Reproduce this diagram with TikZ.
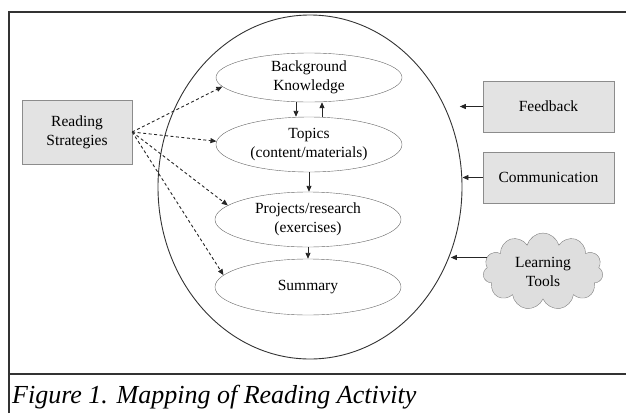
\documentclass[tikz,border=0pt]{standalone}
\usepackage{fontspec}
\setmainfont{Liberation Serif}
\usetikzlibrary{shapes.geometric, shapes.symbols, arrows.meta}

\begin{document}
\begin{tikzpicture}[x=1pt, y=-1pt,
  font=\fontsize{15.5}{19}\selectfont,
  box/.style={draw=black!45, fill=black!11, minimum width=131pt, minimum height=51pt, inner sep=0pt, align=center},
  oval/.style={ellipse, draw=black!60, minimum width=186pt, minimum height=55pt, inner sep=0pt, align=center},
  arrow/.style={-{Triangle[length=6pt,width=5pt]}, line width=0.9pt, black!85},
  dasharrow/.style={arrow, dash pattern=on 3pt off 2.5pt}]
  \useasboundingbox (0,0) rectangle (626,413);

  % Frame and caption
  \draw[line width=2pt, black!80] (9,413) -- (9,12) -- (626,12);
  \draw[line width=2pt, black!80] (9,374) -- (626,374);
  \node[anchor=base west, inner sep=0pt, font=\fontsize{26}{30}\selectfont\itshape] (cap) at (12,403) {Figure 1. Mapping of Reading Activity};

  % Big oval with the four stages
  \node[ellipse, draw=black!80, line width=0.9pt, minimum width=304pt, minimum height=344pt] (map) at (310,187) {};
  \node[oval, minimum height=49pt] (bk) at (309,77.5) {Background\\Knowledge};
  \node[oval] (tp) at (309,144.5) {Topics\\(content/materials)};
  \node[oval] (pr) at (308,219.5) {Projects/research\\(exercises)};
  \node[oval, minimum height=56pt] (sm) at (308,287) {Summary};

  \draw[arrow] ([xshift=-13pt]bk.south) -- ([xshift=-13pt]bk.south |- tp.north);
  \draw[arrow] ([xshift=13pt]tp.north) -- ([xshift=13pt]tp.north |- bk.south);
  \draw[arrow] (tp.south) -- (tp.south |- pr.north);
  \draw[arrow] (pr.south) -- (pr.south |- sm.north);

  % Reading strategies
  \node[box, minimum width=110pt, minimum height=64pt] (rs) at (77,132) {Reading\\Strategies};
  \foreach \t in {bk.186, tp.178, pr.170, sm.172}
    \draw[dasharrow] (rs.east) -- (\t);

  % Inputs on the right
  \node[box] (fb) at (548.5,106.5) {Feedback};
  \node[box] (cm) at (548.5,177.5) {Communication};
  \node[cloud, cloud puffs=11, cloud ignores aspect, draw=black!50, fill=black!13, minimum width=120pt, minimum height=77pt, align=center] (lt) at (543,271.5) {Learning\\Tools};

  \draw[arrow] (fb.west) -- ++(-23,0);
  \draw[arrow] (cm.west) -- (cm.west -| map.east);
  \draw[arrow] (lt.166) -- ++(-36,0);
\end{tikzpicture}
\end{document}
